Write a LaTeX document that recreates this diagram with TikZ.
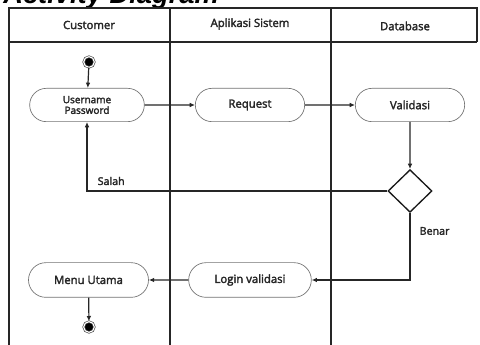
\documentclass[tikz,border=0pt]{standalone}
\usepackage{fontspec}
\setmainfont{Open Sans}
\newfontfamily\titlefont{Liberation Sans}
\newfontfamily\semifont[FakeBold=2.5]{Open Sans}
\usetikzlibrary{shapes.geometric,shapes.misc,arrows.meta}
\tikzset{
  lane/.style={line width=0.8pt,draw=black!85},
  act/.style={rounded rectangle,draw=black!55,line width=0.5pt,minimum width=88pt,minimum height=25pt,font=\semifont\fontsize{8.5}{9}\selectfont,text=black!85,align=center,inner sep=1pt},
  decide/.style={diamond,draw=black!90,line width=1pt,minimum width=33pt,minimum height=32pt,inner sep=0pt},
  dot/.style={circle,fill=black,draw=black!70,double=white,double distance=0.8pt,line width=0.5pt,minimum size=8pt,inner sep=0pt},
  flow/.style={line width=0.9pt,draw=black!85,-{Latex[length=4pt,width=3.5pt]}},
  lbl/.style={font=\semifont\fontsize{8}{9}\selectfont,text=black!85}
}
\begin{document}
\begin{tikzpicture}[x=0.75pt,y=-0.75pt]
\useasboundingbox (0,0) rectangle (480,345);
\fill[white] (0,0) rectangle (480,345);
% judul
\node[anchor=base west,inner sep=0pt,font=\titlefont\bfseries\itshape\fontsize{20.5}{20}\selectfont] (judul) at (3,3.5) {Activity Diagram};
% swimlane
\draw[lane] (9,345) -- (9,8) -- (477,8) -- (477,42);
\draw[lane] (9,42) -- (477,42);
\draw[lane] (170,8) -- (170,345);
\draw[lane] (331,8) -- (331,345);
\node[lbl,font=\semifont\fontsize{8.5}{9}\selectfont] (h1) at (89,25) {Customer};
\node[lbl,font=\semifont\fontsize{8.5}{9}\selectfont] (h2) at (250,24) {Aplikasi Sistem};
\node[lbl,font=\semifont\fontsize{8.5}{9}\selectfont] (h3) at (405,26) {Database};
% node
\node[dot] (mulai) at (89,62) {};
\node[act,font=\semifont\fontsize{7.5}{8}\selectfont] (login) at (87,105) {Username\\Password};
\node[act,minimum width=84pt] (request) at (250,105) {Request};
\node[act,minimum width=84pt] (validasi) at (410,105) {Validasi};
\node[decide] (cek) at (410,191) {};
\node[act,minimum width=94pt,minimum height=26pt] (loginval) at (250,280) {Login validasi};
\node[act,minimum width=92pt,minimum height=26pt] (menu) at (88.5,280) {Menu Utama};
\node[dot] (selesai) at (89,327) {};
% alur
\draw[flow] (mulai) -- (login);
\draw[flow] (login) -- (request);
\draw[flow] (request) -- (validasi);
\draw[flow] (validasi) -- (cek);
\draw[flow] (cek.west) -| (login.south);
\node[lbl,anchor=west] (salah) at (93,181) {Salah};
\draw[flow] (cek.south) |- (loginval.east);
\node[lbl,anchor=west] (benar) at (415,231) {Benar};
\draw[flow] (loginval) -- (menu);
\draw[flow] (menu) -- (selesai);
\end{tikzpicture}
\end{document}
